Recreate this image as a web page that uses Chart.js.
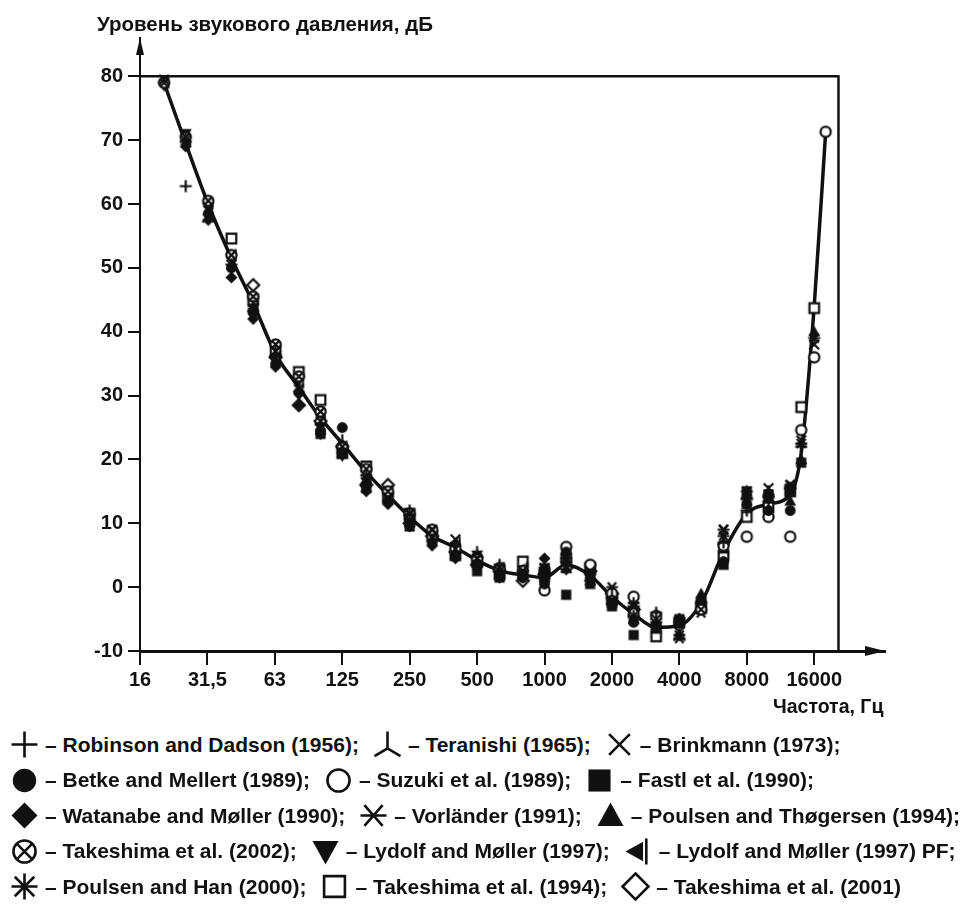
<!DOCTYPE html>
<html>
<head>
<meta charset="utf-8">
<script src="https://cdn.jsdelivr.net/npm/chart.js@4.4.0/dist/chart.umd.min.js"></script>
<style>
body { margin: 0; background: #fff; width: 971px; height: 908px; position: relative; overflow: hidden;
       font-family: "Liberation Sans", Arial, sans-serif; font-weight: bold; color: #111; }
#chart { position: absolute; left: 0; top: 0; }
.ttl { position: absolute; font-size: 20.5px; white-space: nowrap; }
#legend { position: absolute; left: 9px; top: 727px; }
.row { height: 35.5px; display: flex; align-items: center; white-space: nowrap; font-size: 21px; }
.row canvas { margin-right: 5px; }
.row span { margin-right: 13px; }
</style>
</head>
<body>
<canvas id="chart" width="971" height="715"></canvas>
<div class="ttl" style="left:97px; top:12px;">Уровень звукового давления, дБ</div>
<div class="ttl" style="left:773px; top:695px; font-size:19.5px;">Частота, Гц</div>
<div id="legend"></div>
<script>
// частоты по оси X (подписи октав)
const tickLabels = ['16', '31,5', '63', '125', '250', '500', '1000', '2000', '4000', '8000', '16000'];
const yTicks = [-10, 0, 10, 20, 30, 40, 50, 60, 70, 80];

// основная кривая порога слышимости [Гц, дБ]
const curve = [[20, 79], [25, 69.5], [31.5, 60], [40, 51.5], [50, 44.5], [63, 36.5], [80, 31.3], [100, 26.5],
    [125, 22.5], [160, 18], [200, 14.4], [250, 11], [315, 8], [400, 6.2], [500, 4.2], [630, 2.6], [800, 1.9],
    [1000, 1.5], [1250, 3.5], [1600, 1.8], [2000, -1.5], [2500, -4.2], [3150, -6.3], [4000, -6], [5000, -2.5],
    [6300, 5.5], [8000, 11.5], [10000, 13], [12500, 14.5], [14000, 21], [16000, 44], [18000, 71.3]];

// экспериментальные данные [Гц, дБ]
const robinsonDadson = [[25, 62.8], [40, 50.5], [63, 36], [100, 25.5], [160, 17.5], [250, 10.5], [400, 6.5], [630, 3.5],
    [1000, 2.5], [1600, 1], [2500, -2.5], [3150, -4], [4000, -5], [6300, 7], [8000, 12], [10000, 13.5], [12500, 15.5], [14000, 22]];
const teranishi = [[25, 70.5], [31.5, 58], [50, 44], [63, 37], [125, 23], [250, 12], [500, 5.5], [1000, 3], [2000, -1],
    [3150, -5.5], [4000, -7.5], [6300, 7.5], [8000, 14.5], [10000, 15]];
const brinkmann = [[20, 79.5], [25, 70], [31.5, 59], [40, 50.5], [50, 43.5], [63, 37], [80, 31], [100, 26], [125, 21],
    [160, 17], [200, 14], [250, 11.5], [315, 9], [400, 7.5], [500, 4.5], [630, 2.5], [800, 2.5], [1000, 1.5], [1250, 3],
    [1600, 2.5], [2000, -2.5], [2500, -3], [3150, -5], [4000, -7], [5000, -3.5], [6300, 9], [8000, 13.5], [10000, 15.5],
    [12500, 16], [14000, 23], [16000, 38]];
const betkeMellert = [[31.5, 58.5], [40, 50], [50, 43], [63, 35], [80, 30.5], [100, 24.5], [125, 25], [160, 16], [200, 13.5],
    [250, 10], [315, 7], [400, 5], [500, 3.5], [630, 2], [800, 1.5], [1000, 0.5], [1250, 5.5], [1600, 1.5], [2000, -2.5],
    [2500, -5.5], [3150, -6], [4000, -5.5], [5000, -2], [6300, 4], [8000, 13], [10000, 12], [12500, 12]];
const suzuki = [[1000, -0.5], [1250, 6.3], [1600, 3.5], [2000, -1], [2500, -1.5], [3150, -4.5], [4000, -5.5], [5000, -3.5],
    [6300, 6.5], [8000, 7.9], [10000, 11], [12500, 7.9], [14000, 24.6], [16000, 36], [18000, 71.3]];
const fastl = [[100, 24], [125, 21], [160, 15.5], [250, 9.5], [500, 2.5], [630, 1.5], [800, 2], [1000, 2.5], [1250, -1.2],
    [1600, 0.5], [2000, -3], [2500, -7.5], [3150, -6.5], [4000, -5], [5000, -3], [6300, 3.5], [8000, 15], [10000, 14.5],
    [12500, 15], [14000, 19.5]];
const watanabeMoller = [[25, 69], [31.5, 57.5], [40, 48.5], [50, 42], [63, 34.5], [80, 28.5], [100, 24], [125, 21], [160, 15],
    [200, 13], [250, 9.5], [315, 6.5], [400, 4.5], [500, 3.5], [630, 1.5], [800, 1.5], [1000, 4.5]];
const vorlander = [[1000, 2], [1250, 4], [1600, 2.5], [2000, 0], [2500, -3], [3150, -5.5], [4000, -8], [5000, -4], [6300, 9],
    [8000, 14], [10000, 14.5], [12500, 16]];
const poulsenThogersen = [[1000, 1.5], [1250, 3], [1600, 1], [2000, -2], [2500, -5], [3150, -6], [4000, -5], [5000, -1],
    [6300, 6], [8000, 13], [10000, 14], [12500, 13.5], [14000, 20], [16000, 40]];
const takeshima2002 = [[20, 79], [25, 70.5], [31.5, 60.5], [40, 52], [50, 45.5], [63, 38], [80, 33], [100, 27.5], [125, 22],
    [160, 18.5], [200, 15], [250, 11.5], [315, 9], [400, 6], [500, 4.5], [630, 3], [800, 2.5], [1000, 2]];
const lydolfMoller = [[20, 78.5], [25, 71], [31.5, 59.5], [40, 51.5], [50, 43], [63, 37.5], [80, 30], [100, 25], [125, 20.5],
    [160, 16.5], [200, 14], [250, 10], [315, 8], [400, 6], [500, 5], [630, 2.5], [800, 2], [1000, 3]];
const lydolfMollerPF = [[20, 79], [25, 70], [31.5, 60], [40, 52], [50, 44], [63, 36], [80, 32], [100, 27], [125, 22], [160, 17],
    [200, 15], [250, 11], [315, 8.5], [400, 7], [500, 4], [630, 3], [800, 3], [1000, 2.5]];
const poulsenHan = [[1000, 3], [1250, 4.5], [1600, 2], [2000, -1.5], [2500, -4.5], [3150, -5], [4000, -7.5], [5000, -2.5],
    [6300, 8], [8000, 15], [10000, 14], [12500, 15.5], [14000, 22.5], [16000, 39]];
const takeshima1994 = [[40, 54.6], [50, 45], [63, 37], [80, 33.7], [100, 29.3], [125, 21], [160, 18.9], [200, 14], [250, 11.5],
    [315, 8], [400, 5], [500, 4], [630, 2], [800, 4], [1000, 2], [1250, 4.5], [1600, 3], [2000, -2], [2500, -4], [3150, -7.7],
    [4000, -5.5], [5000, -3], [6300, 5], [8000, 11], [10000, 12.5], [12500, 15], [14000, 28.2], [16000, 43.7]];
const takeshima2001 = [[50, 47.3], [63, 36], [80, 28.5], [100, 26], [125, 22], [160, 16], [200, 16], [250, 10], [315, 8],
    [400, 5.5], [500, 3.5], [630, 2.5], [800, 1], [1000, 2], [1250, 3], [1600, 2.5], [2000, -1], [2500, -3.5]];

const series = [
    { name: 'Robinson and Dadson (1956)', kind: 'plus', data: robinsonDadson },
    { name: 'Teranishi (1965)', kind: 'ytri', data: teranishi },
    { name: 'Brinkmann (1973)', kind: 'x', data: brinkmann },
    { name: 'Betke and Mellert (1989)', kind: 'dot', data: betkeMellert },
    { name: 'Suzuki et al. (1989)', kind: 'ring', data: suzuki },
    { name: 'Fastl et al. (1990)', kind: 'sq', data: fastl },
    { name: 'Watanabe and Møller (1990)', kind: 'dia', data: watanabeMoller },
    { name: 'Vorländer (1991)', kind: 'ast', data: vorlander },
    { name: 'Poulsen and Thøgersen (1994)', kind: 'up', data: poulsenThogersen },
    { name: 'Takeshima et al. (2002)', kind: 'otimes', data: takeshima2002 },
    { name: 'Lydolf and Møller (1997)', kind: 'down', data: lydolfMoller },
    { name: 'Lydolf and Møller (1997) PF', kind: 'leftbar', data: lydolfMollerPF },
    { name: 'Poulsen and Han (2000)', kind: 'star8', data: poulsenHan },
    { name: 'Takeshima et al. (1994)', kind: 'osq', data: takeshima1994 },
    { name: 'Takeshima et al. (2001)', kind: 'odia', data: takeshima2001 }
];

const INK = '#111';
const FONT = '"Liberation Sans", Arial, sans-serif';

// положение по оси X в октавах (16 Гц = 0)
const oct = f => 6 + Math.log2(f / 1000);
const toPts = arr => arr.map(p => ({ x: oct(p[0]), y: p[1] }));

function drawMarker(ctx, kind, c, r, lw) {
    ctx.strokeStyle = INK;
    ctx.fillStyle = INK;
    ctx.lineWidth = lw;
    ctx.beginPath();
    switch (kind) {
        case 'plus':
            ctx.moveTo(c - r, c); ctx.lineTo(c + r, c);
            ctx.moveTo(c, c - r); ctx.lineTo(c, c + r);
            ctx.stroke(); break;
        case 'ytri':
            ctx.moveTo(c, c - r); ctx.lineTo(c, c + 0.3 * r);
            ctx.lineTo(c - r, c + 0.9 * r);
            ctx.moveTo(c, c + 0.3 * r); ctx.lineTo(c + r, c + 0.9 * r);
            ctx.stroke(); break;
        case 'x':
            ctx.moveTo(c - 0.8 * r, c - 0.8 * r); ctx.lineTo(c + 0.8 * r, c + 0.8 * r);
            ctx.moveTo(c + 0.8 * r, c - 0.8 * r); ctx.lineTo(c - 0.8 * r, c + 0.8 * r);
            ctx.stroke(); break;
        case 'dot':
            ctx.arc(c, c, r * 0.9, 0, Math.PI * 2); ctx.fill(); break;
        case 'ring':
            ctx.arc(c, c, r * 0.85, 0, Math.PI * 2);
            ctx.fillStyle = '#fff'; ctx.fill(); ctx.stroke(); break;
        case 'sq':
            ctx.rect(c - 0.85 * r, c - 0.85 * r, 1.7 * r, 1.7 * r); ctx.fill(); break;
        case 'dia':
            ctx.moveTo(c, c - r); ctx.lineTo(c + r, c); ctx.lineTo(c, c + r); ctx.lineTo(c - r, c);
            ctx.closePath(); ctx.fill(); break;
        case 'ast':
            ctx.moveTo(c - r, c); ctx.lineTo(c + r, c);
            ctx.moveTo(c - 0.7 * r, c - 0.8 * r); ctx.lineTo(c + 0.7 * r, c + 0.8 * r);
            ctx.moveTo(c + 0.7 * r, c - 0.8 * r); ctx.lineTo(c - 0.7 * r, c + 0.8 * r);
            ctx.stroke(); break;
        case 'up':
            ctx.moveTo(c, c - r); ctx.lineTo(c + r, c + 0.8 * r); ctx.lineTo(c - r, c + 0.8 * r);
            ctx.closePath(); ctx.fill(); break;
        case 'otimes':
            ctx.arc(c, c, r * 0.85, 0, Math.PI * 2);
            ctx.fillStyle = '#fff'; ctx.fill(); ctx.stroke();
            ctx.beginPath();
            ctx.moveTo(c - 0.6 * r, c - 0.6 * r); ctx.lineTo(c + 0.6 * r, c + 0.6 * r);
            ctx.moveTo(c + 0.6 * r, c - 0.6 * r); ctx.lineTo(c - 0.6 * r, c + 0.6 * r);
            ctx.stroke(); break;
        case 'down':
            ctx.moveTo(c - r, c - 0.8 * r); ctx.lineTo(c + r, c - 0.8 * r); ctx.lineTo(c, c + r);
            ctx.closePath(); ctx.fill(); break;
        case 'leftbar':
            ctx.moveTo(c - r, c); ctx.lineTo(c + 0.35 * r, c - 0.75 * r); ctx.lineTo(c + 0.35 * r, c + 0.75 * r);
            ctx.closePath(); ctx.fill();
            ctx.fillRect(c + 0.5 * r, c - r, Math.max(2, lw), 2 * r); break;
        case 'star8':
            ctx.moveTo(c - r, c); ctx.lineTo(c + r, c);
            ctx.moveTo(c, c - r); ctx.lineTo(c, c + r);
            ctx.moveTo(c - 0.75 * r, c - 0.75 * r); ctx.lineTo(c + 0.75 * r, c + 0.75 * r);
            ctx.moveTo(c + 0.75 * r, c - 0.75 * r); ctx.lineTo(c - 0.75 * r, c + 0.75 * r);
            ctx.stroke(); break;
        case 'osq':
            ctx.rect(c - 0.8 * r, c - 0.8 * r, 1.6 * r, 1.6 * r);
            ctx.fillStyle = '#fff'; ctx.fill(); ctx.stroke(); break;
        case 'odia':
            ctx.moveTo(c, c - r); ctx.lineTo(c + r, c); ctx.lineTo(c, c + r); ctx.lineTo(c - r, c);
            ctx.closePath(); ctx.fillStyle = '#fff'; ctx.fill(); ctx.stroke(); break;
    }
}

function makeMarker(kind, r, lw) {
    const size = Math.ceil(2 * r + lw + 2);
    const cv = document.createElement('canvas');
    cv.width = size; cv.height = size;
    drawMarker(cv.getContext('2d'), kind, size / 2, r, lw);
    return cv;
}

// рамка сверху/справа и стрелки осей
const frameRight = 10.36;
const framePlugin = {
    id: 'frame',
    beforeDatasetsDraw(chart) {
        const { ctx, scales: { x, y }, chartArea: a } = chart;
        const xr = x.getPixelForValue(frameRight);
        const yt = y.getPixelForValue(80);
        ctx.save();
        ctx.strokeStyle = INK;
        ctx.lineWidth = 2.5;
        ctx.beginPath();
        ctx.moveTo(a.left, yt); ctx.lineTo(xr, yt);
        ctx.moveTo(xr, yt - 1); ctx.lineTo(xr, a.bottom);
        ctx.stroke();
        ctx.fillStyle = INK;
        ctx.beginPath();
        ctx.moveTo(a.right, a.bottom); ctx.lineTo(a.right - 20, a.bottom - 5); ctx.lineTo(a.right - 20, a.bottom + 5);
        ctx.closePath(); ctx.fill();
        ctx.beginPath();
        ctx.moveTo(a.left, a.top); ctx.lineTo(a.left - 4, a.top + 17); ctx.lineTo(a.left + 4, a.top + 17);
        ctx.closePath(); ctx.fill();
        ctx.restore();
    }
};

const datasets = series.map(s => ({
    type: 'scatter',
    label: s.name,
    data: toPts(s.data),
    pointStyle: makeMarker(s.kind, 6, 2.2),
    pointRadius: 6,
    showLine: false
}));
datasets.push({
    type: 'line',
    label: 'curve',
    data: toPts(curve),
    borderColor: INK,
    borderWidth: 3.5,
    pointRadius: 0,
    cubicInterpolationMode: 'monotone',
    fill: false
});

new Chart(document.getElementById('chart'), {
    type: 'scatter',
    data: { datasets: datasets },
    options: {
        responsive: false,
        animation: false,
        layout: { padding: { top: 38, right: 86, left: 0, bottom: 0 } },
        plugins: { legend: { display: false }, tooltip: { enabled: false } },
        scales: {
            x: {
                type: 'linear', min: 0, max: 11.05,
                afterBuildTicks: s => { s.ticks = tickLabels.map((t, i) => ({ value: i })); },
                afterFit: s => { s.height = 64; },
                ticks: {
                    callback: v => tickLabels[v], autoSkip: false, maxRotation: 0,
                    color: INK, padding: 3, font: { family: FONT, size: 20, weight: 'bold' }
                },
                grid: { drawOnChartArea: false, color: INK, lineWidth: 2, tickLength: 14 },
                border: { color: INK, width: 3 }
            },
            y: {
                min: -10, max: 86,
                afterBuildTicks: s => { s.ticks = yTicks.map(v => ({ value: v })); },
                afterFit: s => { s.width = 140; },
                ticks: { color: INK, padding: 5, font: { family: FONT, size: 20, weight: 'bold' } },
                grid: { drawOnChartArea: false, color: INK, lineWidth: 2, tickLength: 12 },
                border: { color: INK, width: 2 }
            }
        }
    },
    plugins: [framePlugin]
});

// подпись условных обозначений
const legendRows = [[0, 1, 2], [3, 4, 5], [6, 7, 8], [9, 10, 11], [12, 13, 14]];
const legend = document.getElementById('legend');
legendRows.forEach(row => {
    const div = document.createElement('div');
    div.className = 'row';
    row.forEach(i => {
        const s = series[i];
        div.appendChild(makeMarker(s.kind, 13, 2.6));
        const span = document.createElement('span');
        span.textContent = '– ' + s.name + (i === series.length - 1 ? '' : ';');
        div.appendChild(span);
    });
    legend.appendChild(div);
});
</script>
</body>
</html>
